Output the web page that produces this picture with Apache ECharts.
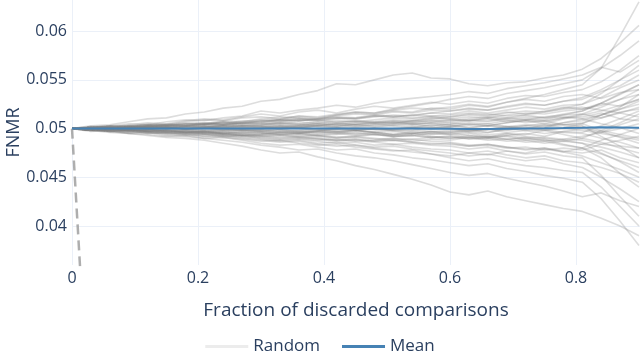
<!DOCTYPE html>
<html>
<head>
<meta charset="utf-8">
<script src="https://cdn.jsdelivr.net/npm/echarts@6/dist/echarts.min.js"></script>
<style>
html,body{margin:0;padding:0;background:#fff;}
#chart{width:640px;height:351px;}
</style>
</head>
<body>
<div id="chart"></div>
<script>
var fractions = [0,0.03,0.06,0.09,0.12,0.15,0.18,0.21,0.24,0.27,0.3,0.33,0.36,0.39,0.42,0.45,
  0.48,0.51,0.54,0.57,0.6,0.63,0.66,0.69,0.72,0.75,0.78,0.81,0.84,0.87,0.9];

// random discard runs: FNMR minus 0.05, in units of 1e-4
var randomRuns = [
  [0,3,4,7,10,11,15,17,21,23,28,30,35,39,46,45,50,55,57,52,51,46,44,47,48,52,55,61,72,88,106],
  [0,2,1,4,6,5,8,10,9,12,15,13,17,19,16,20,23,21,24,27,25,28,26,31,34,33,37,40,48,60,75],
  [0,1,3,2,5,4,7,9,8,11,12,10,13,11,14,16,15,18,17,21,20,24,22,27,31,35,40,45,62,95,130],
  [0,-1,1,3,2,4,6,5,8,7,10,12,11,9,13,15,14,17,16,19,18,21,19,23,26,24,28,30,38,44,55],
  [0,1,0,2,4,3,5,4,7,6,8,10,13,12,15,17,16,19,21,20,22,25,23,27,30,28,33,35,31,37,40],
  [0,1,2,1,3,5,4,6,5,8,7,9,8,10,12,11,14,13,11,13,12,15,14,17,15,18,22,20,26,23,30],
  [0,-1,0,2,1,3,2,4,6,4,5,7,9,8,11,10,13,12,14,16,15,18,16,19,22,20,24,25,36,50,65],
  [0,1,-1,0,2,1,3,2,4,3,4,6,5,3,5,7,6,8,7,9,8,10,12,11,9,12,14,15,11,17,20],
  [0,0,1,-1,1,0,2,1,3,2,3,5,4,6,8,7,9,11,10,12,10,8,11,9,6,8,4,5,-2,-6,-10],
  [0,1,0,1,-1,1,0,2,1,3,2,1,3,5,4,2,4,6,5,3,5,8,7,10,12,11,15,18,26,35,45],
  [0,-1,1,0,2,1,-1,0,2,0,1,-1,-3,-2,0,-2,-4,-3,-5,-4,-3,-1,-4,0,3,1,6,10,14,20,25],
  [0,1,0,-1,1,2,0,1,-1,1,0,2,1,3,5,4,2,4,6,5,4,1,3,0,-2,-1,-4,-5,-10,-14,-20],
  [0,-1,-2,0,-1,1,0,-2,-1,0,-1,1,0,-2,0,2,1,3,1,4,2,5,3,6,9,8,11,12,16,10,8],
  [0,0,-1,1,0,-2,-1,-3,-2,-1,-2,-4,-3,-5,-4,-6,-5,-8,-7,-5,-6,-9,-8,-11,-9,-12,-13,-10,-2,6,15],
  [0,-1,0,-2,-1,-3,-2,-4,-3,-2,-3,-1,-2,0,-1,1,-1,0,2,1,0,-3,-1,2,0,4,1,3,-8,-18,-30],
  [0,-1,-2,-1,-3,-2,-4,-3,-5,-3,-4,-6,-5,-7,-6,-4,-6,-8,-7,-9,-8,-11,-10,-13,-12,-15,-13,-15,-25,-34,-45],
  [0,-1,0,-2,-1,-3,-4,-3,-5,-4,-5,-7,-6,-8,-10,-9,-11,-10,-13,-11,-12,-9,-10,-7,-5,-8,-3,0,-4,4,10],
  [0,-1,-2,-1,-3,-2,-4,-6,-5,-7,-6,-4,-5,-3,-5,-2,-4,-6,-3,-5,-4,-7,-9,-8,-12,-11,-16,-20,-30,-46,-60],
  [0,-2,-1,-3,-2,-4,-5,-4,-6,-5,-7,-9,-8,-10,-12,-11,-13,-12,-14,-16,-15,-18,-16,-19,-22,-20,-23,-25,-22,-30,-35],
  [0,-1,-3,-2,-4,-3,-5,-4,-6,-7,-8,-10,-9,-11,-13,-12,-14,-16,-15,-17,-18,-21,-19,-23,-26,-24,-28,-30,-48,-70,-90],
  [0,-2,-1,-3,-5,-4,-6,-5,-7,-8,-9,-11,-10,-12,-11,-13,-12,-10,-11,-9,-10,-7,-9,-5,-6,-2,1,5,14,22,35],
  [0,-1,-3,-2,-4,-5,-4,-6,-8,-7,-10,-12,-11,-13,-15,-14,-17,-16,-19,-21,-22,-25,-23,-27,-30,-28,-33,-35,-40,-46,-55],
  [0,-2,-3,-2,-5,-4,-6,-8,-7,-9,-11,-13,-12,-15,-14,-17,-19,-18,-21,-23,-25,-28,-26,-30,-33,-31,-36,-40,-50,-62,-75],
  [0,-1,-3,-4,-3,-6,-5,-8,-9,-11,-13,-12,-15,-17,-16,-19,-21,-23,-22,-26,-30,-33,-31,-35,-38,-40,-43,-45,-60,-80,-100],
  [0,-2,-3,-5,-4,-7,-8,-10,-9,-12,-15,-17,-16,-19,-22,-21,-25,-27,-30,-32,-35,-38,-36,-41,-44,-48,-51,-55,-72,-95,-120],
  [0,-3,-2,-5,-6,-8,-7,-10,-12,-14,-17,-19,-22,-21,-25,-28,-30,-33,-37,-41,-45,-48,-46,-51,-55,-59,-64,-70,-66,-74,-80],
  [0,1,3,2,4,3,5,4,7,5,6,9,11,10,14,17,16,20,23,26,30,33,31,36,39,42,46,50,62,75,90],
  [0,-2,-4,-5,-7,-9,-10,-12,-15,-18,-22,-25,-24,-29,-33,-38,-42,-47,-52,-58,-65,-68,-64,-70,-74,-78,-82,-85,-92,-100,-110],
  [0,2,3,5,4,7,9,8,11,13,18,16,19,21,24,22,26,29,31,33,35,38,36,41,44,47,51,55,63,58,70],
  [0,-1,-2,-4,-3,-5,-7,-6,-8,-10,-12,-14,-13,-16,-18,-17,-20,-22,-24,-26,-28,-25,-27,-23,-25,-21,-24,-20,-12,-6,0],
  [0,1,0,2,1,3,2,4,3,5,4,6,5,7,6,8,7,9,8,11,10,12,11,14,16,15,18,20,24,30,35],
  [0,-1,0,-1,-2,-1,-3,-2,-4,-2,-3,-5,-4,-6,-5,-7,-6,-8,-7,-9,-8,-10,-9,-11,-10,-13,-11,-12,-16,-18,-20],
  [0,1,2,1,3,2,4,5,4,6,6,5,7,5,6,4,5,3,4,2,3,1,3,2,4,3,6,8,14,20,28],
  [0,-1,-2,-1,-3,-2,-4,-3,-5,-4,-5,-3,-4,-2,-3,-1,0,-1,1,0,2,4,3,6,8,7,11,15,22,30,40],
  [0,1,0,2,1,2,0,1,3,2,2,0,1,-1,-3,-2,-4,-6,-5,-8,-10,-9,-12,-11,-14,-13,-17,-20,-26,-33,-40],
  [0,1,2,3,2,4,3,5,6,5,8,7,9,8,10,11,13,12,14,13,14,16,15,13,14,11,12,10,5,1,-5],
  [0,-1,-2,-1,-3,-4,-3,-5,-4,-6,-7,-6,-8,-7,-9,-8,-6,-7,-5,-6,-5,-3,-4,-1,0,2,4,6,11,16,22],
  [0,0,1,-1,0,1,-1,0,2,1,0,2,1,3,2,4,3,5,4,6,7,9,8,11,14,17,21,25,32,42,50],
  [0,1,0,1,2,1,3,2,4,3,3,1,2,0,1,-1,0,-2,-1,-3,-2,-4,-6,-5,-8,-10,-12,-15,-19,-24,-30],
  [0,-1,0,-2,-1,0,-1,1,0,-1,-2,0,1,3,2,4,6,5,8,10,12,14,13,16,18,17,20,22,19,16,12],
  [0,1,2,1,3,4,3,5,4,6,5,3,4,2,1,-1,0,-2,-4,-3,-6,-5,-8,-7,-10,-9,-11,-8,-4,0,5],
  [0,-1,0,-2,-1,-3,-2,-4,-3,-5,-4,-6,-5,-7,-9,-8,-10,-12,-11,-13,-14,-17,-16,-19,-21,-20,-24,-28,-35,-42,-50],
  [0,0,1,0,2,1,0,2,1,0,1,3,2,4,3,5,7,6,8,7,9,8,10,7,8,5,4,2,-3,-9,-15],
  [0,-1,-2,-1,-3,-2,-4,-3,-5,-7,-6,-4,-5,-3,-4,-2,-3,-1,-2,1,0,-2,-1,-4,-2,-5,-3,-4,3,10,18],
  [0,1,2,1,3,4,3,5,4,6,7,9,8,10,11,10,12,14,13,16,18,20,19,22,25,24,28,32,40,50,60],
  [0,0,-1,1,0,-1,1,0,-2,-1,-1,-3,-2,-4,-3,-5,-4,-6,-5,-3,-4,-2,-1,1,3,5,10,14,18,24,30],
  [0,1,0,1,2,1,2,3,1,3,2,4,3,5,4,6,5,7,6,8,6,4,5,2,0,-2,-6,-10,-14,-20,-25],
  [0,-1,-2,-3,-2,-4,-3,-5,-6,-7,-8,-7,-9,-10,-12,-11,-13,-12,-14,-15,-16,-18,-17,-20,-19,-22,-20,-22,-16,-12,-8],
  [0,1,2,3,4,3,5,6,5,7,9,8,10,9,7,8,6,7,5,6,4,6,5,8,10,9,14,18,26,36,45],
  [0,-1,0,-1,-2,-1,-3,-2,-1,-2,-3,-2,-4,-3,-1,-2,0,-1,1,0,1,-1,0,-2,1,-1,0,-2,-5,-8,-12]
];

// mean of the runs, same units
var meanRun = [0,0,0,0,0,0,0.2,0.2,0.1,0,0,0,0,0.1,0,0,0,0.1,0,-0.1,-0.2,-0.5,-0.4,-0.1,0.2,0.3,0.5,0.8,1.4,1.2,0.8];

// dashed reference line (fraction, FNMR)
var dashedLine = [[0, 0.05], [0.045, 0]];

var baseFnmr = 0.05;
var yTicks = [0.04, 0.045, 0.05, 0.055, 0.06];
var xTicks = [0, 0.2, 0.4, 0.6, 0.8];

function toPoints(run) {
  return run.map(function (d, i) { return [fractions[i], baseFnmr + d / 10000]; });
}

var font = '"Open Sans", sans-serif';
var textColor = '#2a3f5f';
var gridColor = '#ebf0f8';

var series = randomRuns.map(function (run) {
  return {
    name: 'Random',
    type: 'line',
    data: toPoints(run),
    showSymbol: false,
    silent: true,
    color: '#ececec',
    lineStyle: { color: 'rgba(128,128,128,0.27)', width: 1.6 },
    z: 2
  };
});

series.push({
  name: 'Mean',
  type: 'line',
  data: toPoints(meanRun),
  showSymbol: false,
  silent: true,
  color: '#4682b4',
  lineStyle: { color: '#4682b4', width: 2 },
  z: 4
});

series.push({
  name: 'optimal',
  type: 'line',
  data: dashedLine,
  showSymbol: false,
  silent: true,
  lineStyle: { color: 'rgba(160,160,160,0.85)', width: 2.5, type: [10, 6] },
  z: 3
});

var myChart = echarts.init(document.getElementById('chart'));
var option = {
  animation: false,
  backgroundColor: '#fff',
  textStyle: { fontFamily: font },
  grid: { left: 72, right: 0, top: 0, bottom: 86, containLabel: false, outerBoundsMode: 'none' },
  legend: {
    data: ['Random', 'Mean'],
    top: 333,
    left: 'center',
    icon: 'rect',
    itemWidth: 43,
    itemHeight: 3,
    itemGap: 22,
    textStyle: { color: textColor, fontSize: 17, fontFamily: font }
  },
  xAxis: {
    type: 'value',
    min: 0,
    max: 0.9016,
    name: 'Fraction of discarded comparisons',
    nameLocation: 'middle',
    nameGap: 36,
    nameMoveOverlap: false,
    nameTextStyle: { color: textColor, fontSize: 19, fontFamily: font },
    axisLine: { show: false },
    axisTick: { show: false, customValues: xTicks },
    axisLabel: { customValues: xTicks, color: textColor, fontSize: 16, margin: 5 },
    splitLine: { show: true, lineStyle: { color: gridColor, width: 1 } }
  },
  yAxis: {
    type: 'value',
    min: 0.036,
    max: 0.0632,
    name: 'FNMR',
    nameLocation: 'middle',
    nameGap: 49,
    nameMoveOverlap: false,
    nameTextStyle: { color: textColor, fontSize: 18, fontFamily: font },
    axisLine: { show: false },
    axisTick: { show: false, customValues: yTicks },
    axisLabel: { customValues: yTicks, color: textColor, fontSize: 16, margin: 5 },
    splitLine: { show: true, lineStyle: { color: gridColor, width: 1 } }
  },
  series: series
};
myChart.setOption(option);
window.addEventListener('resize', function () {
  myChart.resize();
});
</script>
</body>
</html>
